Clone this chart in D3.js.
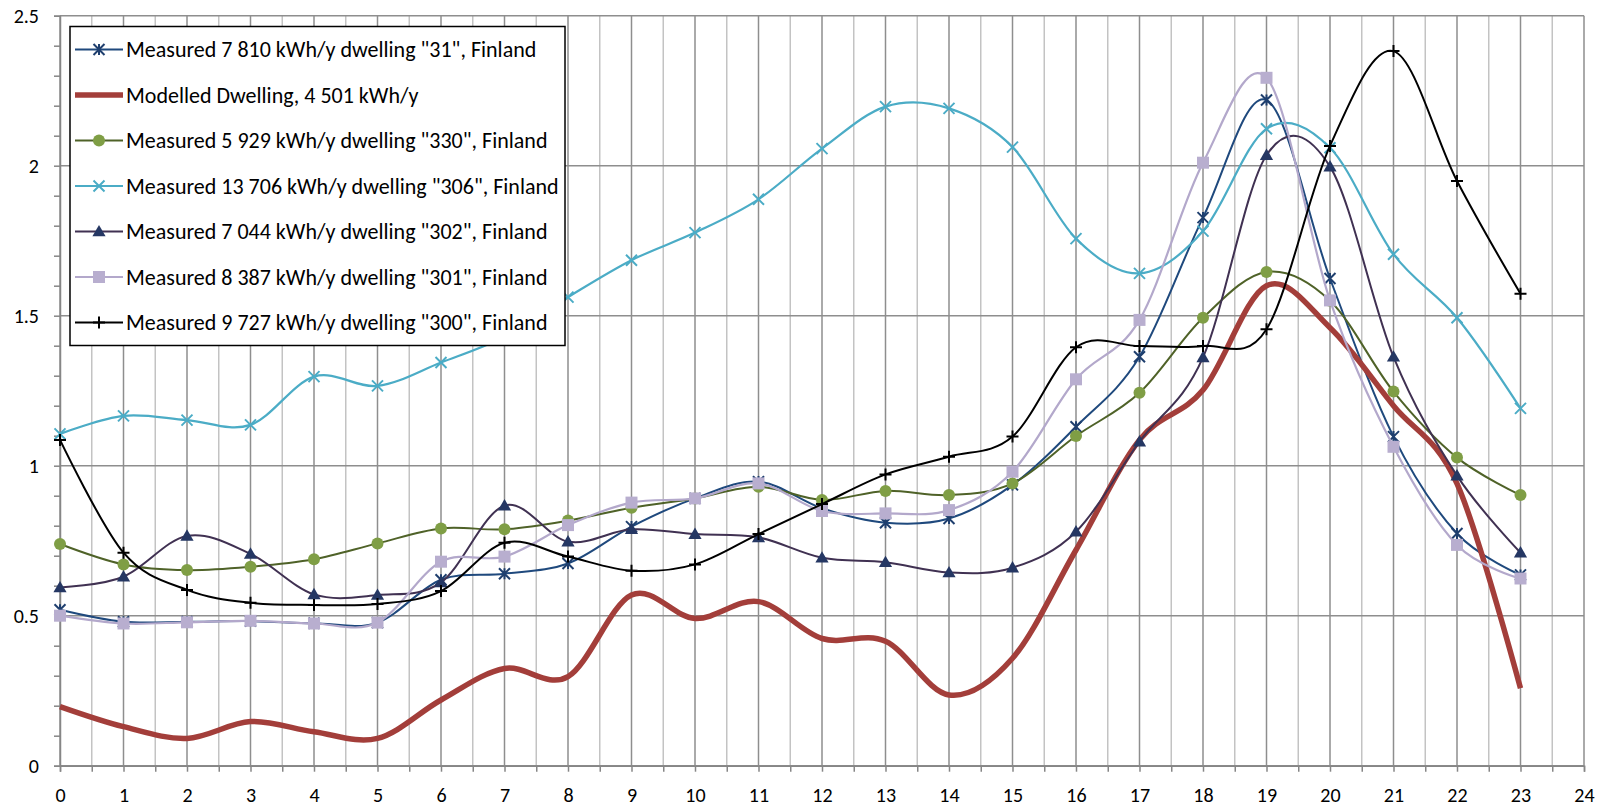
<!DOCTYPE html>
<html>
<head>
<meta charset="utf-8">
<script src="https://cdn.jsdelivr.net/npm/d3@7"></script>
<style>
  body { margin: 0; background: #fff; }
  svg text { font-family: Carlito, Calibri, Lato, "Open Sans", sans-serif; }
</style>
</head>
<body>
<div id="chart"></div>
<script>
// hours of the day
const hours = [0, 1, 2, 3, 4, 5, 6, 7, 8, 9, 10, 11, 12, 13, 14, 15, 16, 17, 18, 19, 20, 21, 22, 23];

// series values (kW)
const d31 = [0.52, 0.48, 0.48, 0.482, 0.475, 0.477, 0.62, 0.64, 0.674, 0.797, 0.891, 0.947, 0.858, 0.81, 0.824, 0.936, 1.13, 1.363, 1.827, 2.219, 1.624, 1.097, 0.774, 0.636];
const modelled = [0.197, 0.13, 0.091, 0.147, 0.113, 0.091, 0.219, 0.324, 0.297, 0.569, 0.491, 0.547, 0.424, 0.415, 0.236, 0.358, 0.719, 1.086, 1.252, 1.6, 1.46, 1.2, 0.94, 0.258];
const d330 = [0.739, 0.671, 0.652, 0.663, 0.688, 0.741, 0.791, 0.788, 0.817, 0.86, 0.891, 0.93, 0.886, 0.916, 0.902, 0.941, 1.099, 1.243, 1.493, 1.646, 1.55, 1.247, 1.027, 0.902];
const d306 = [1.106, 1.166, 1.152, 1.136, 1.297, 1.266, 1.344, 1.43, 1.562, 1.685, 1.777, 1.888, 2.057, 2.197, 2.191, 2.062, 1.757, 1.641, 1.782, 2.123, 2.06, 1.705, 1.493, 1.191];
const d302 = [0.594, 0.63, 0.766, 0.706, 0.571, 0.569, 0.611, 0.867, 0.747, 0.788, 0.772, 0.761, 0.693, 0.678, 0.644, 0.66, 0.78, 1.08, 1.361, 2.035, 1.997, 1.363, 0.967, 0.71];
const d301 = [0.5, 0.474, 0.478, 0.483, 0.474, 0.477, 0.68, 0.697, 0.802, 0.877, 0.891, 0.941, 0.849, 0.841, 0.852, 0.98, 1.288, 1.486, 2.01, 2.293, 1.551, 1.063, 0.736, 0.624];
const d300 = [1.086, 0.71, 0.586, 0.543, 0.536, 0.539, 0.582, 0.743, 0.697, 0.65, 0.671, 0.772, 0.872, 0.971, 1.03, 1.097, 1.395, 1.399, 1.399, 1.455, 2.066, 2.382, 1.949, 1.573];

const seriesNames = [
  'Measured 7 810 kWh/y dwelling "31", Finland',
  'Modelled Dwelling, 4 501 kWh/y',
  'Measured 5 929 kWh/y dwelling "330", Finland',
  'Measured 13 706 kWh/y dwelling "306", Finland',
  'Measured 7 044 kWh/y dwelling "302", Finland',
  'Measured 8 387 kWh/y dwelling "301", Finland',
  'Measured 9 727 kWh/y dwelling "300", Finland'
];

// tick labels
const xTicks = d3.range(0, 25);
const yTicks = [0, 0.5, 1, 1.5, 2, 2.5];

const W = 1606, H = 806;
const margin = {top: 15.7, right: 22, bottom: 40.3, left: 60};
const width = W - margin.left - margin.right;
const height = H - margin.top - margin.bottom;

const svg = d3.select("#chart").append("svg")
    .attr("width", W)
    .attr("height", H);

const g = svg.append("g")
    .attr("transform", `translate(${margin.left},${margin.top})`);

const x = d3.scaleLinear().domain([0, 24]).range([0, width]);
const y = d3.scaleLinear().domain([0, 2.5]).range([height, 0]);

// vertical grid: light at half hours, darker at hours
g.append("g")
    .selectAll("line")
    .data(d3.range(0.5, 24, 1))
    .join("line")
    .attr("x1", d => x(d)).attr("x2", d => x(d))
    .attr("y1", 0).attr("y2", height)
    .attr("stroke", "#c3c3c3")
    .attr("stroke-width", 1.5);

g.append("g")
    .selectAll("line")
    .data(xTicks)
    .join("line")
    .attr("x1", d => x(d)).attr("x2", d => x(d))
    .attr("y1", 0).attr("y2", height)
    .attr("stroke", "#8e8e8e")
    .attr("stroke-width", 1.5);

// horizontal grid
g.append("g")
    .selectAll("line")
    .data(yTicks)
    .join("line")
    .attr("x1", 0).attr("x2", width)
    .attr("y1", d => y(d)).attr("y2", d => y(d))
    .attr("stroke", "#8e8e8e")
    .attr("stroke-width", 1.5);

// axes
const xAxis = g.append("g")
    .attr("transform", `translate(0,${height})`)
    .call(d3.axisBottom(x).tickValues(d3.range(0, 24.5, 0.5)).tickSize(6).tickFormat(""));
xAxis.select(".domain").attr("stroke", "#868686").attr("stroke-width", 1.5);
xAxis.selectAll(".tick line").attr("stroke", "#868686").attr("stroke-width", 1.5);

g.append("g")
    .attr("transform", `translate(0,${height})`)
    .call(d3.axisBottom(x).tickValues(xTicks).tickSize(0).tickPadding(22))
    .call(a => a.select(".domain").remove())
    .selectAll("text")
    .attr("fill", "#000")
    .style("font-size", "20px");

const yAxis = g.append("g")
    .call(d3.axisLeft(y).tickValues(d3.range(0, 26).map(i => i / 10)).tickSize(6).tickFormat(""));
yAxis.select(".domain").attr("stroke", "#868686").attr("stroke-width", 1.5);
yAxis.selectAll(".tick line").attr("stroke", "#868686").attr("stroke-width", 1.5);

g.append("g")
    .call(d3.axisLeft(y).tickValues(yTicks).tickSize(0).tickPadding(21).tickFormat(d => String(d)))
    .call(a => a.select(".domain").remove())
    .selectAll("text")
    .attr("fill", "#000")
    .style("font-size", "20px");

// marker shapes
function markerPath(type, s) {
  const h = s / 2;
  if (type === "star") return `M${-h},${-h}L${h},${h}M${-h},${h}L${h},${-h}M0,${-h}L0,${h}`;
  if (type === "x") return `M${-h},${-h}L${h},${h}M${-h},${h}L${h},${-h}`;
  if (type === "plus") return `M${-h},0L${h},0M0,${-h}L0,${h}`;
  if (type === "triangle") return `M0,${-h * 1.1}L${h * 1.1},${h * 0.8}L${-h * 1.1},${h * 0.8}Z`;
  if (type === "square") return `M${-h},${-h}H${h}V${h}H${-h}Z`;
  return null;
}

const series = [
  {name: seriesNames[0], values: d31, line: "#1F497D", width: 2, marker: "star", mColor: "#1F3F6E", size: 11},
  {name: seriesNames[1], values: modelled, line: "#A33E3A", width: 5.5, marker: null},
  {name: seriesNames[2], values: d330, line: "#4F6228", width: 2, marker: "circle", mColor: "#7F9E45", size: 12},
  {name: seriesNames[3], values: d306, line: "#4BACC6", width: 2.2, marker: "x", mColor: "#4BACC6", size: 11},
  {name: seriesNames[4], values: d302, line: "#403152", width: 2, marker: "triangle", mColor: "#253763", size: 12},
  {name: seriesNames[5], values: d301, line: "#B3A8CB", width: 2.2, marker: "square", mColor: "#B8AECF", size: 12},
  {name: seriesNames[6], values: d300, line: "#000000", width: 2, marker: "plus", mColor: "#000000", size: 12}
];

function drawMarker(sel, s) {
  if (!s.marker) return;
  if (s.marker === "circle") {
    sel.append("circle").attr("r", s.size / 2).attr("fill", s.mColor);
  } else if (s.marker === "triangle" || s.marker === "square") {
    sel.append("path").attr("d", markerPath(s.marker, s.size)).attr("fill", s.mColor);
  } else {
    sel.append("path").attr("d", markerPath(s.marker, s.size))
        .attr("fill", "none").attr("stroke", s.mColor).attr("stroke-width", 2);
  }
}

const line = d3.line()
    .x((d, i) => x(hours[i]))
    .y(d => y(d))
    .curve(d3.curveCardinal.tension(0));

series.forEach(s => {
  const sg = g.append("g");
  sg.append("path")
      .datum(s.values)
      .attr("fill", "none")
      .attr("stroke", s.line)
      .attr("stroke-width", s.width)
      .attr("stroke-linejoin", "round")
      .attr("d", line);
  if (s.marker) {
    sg.selectAll("g.m")
        .data(s.values)
        .join("g")
        .attr("class", "m")
        .attr("transform", (d, i) => `translate(${x(hours[i])},${y(d)})`)
        .each(function() { drawMarker(d3.select(this), s); });
  }
});

// legend
const legend = svg.append("g").attr("transform", "translate(70,26.5)");
legend.append("rect")
    .attr("width", 495).attr("height", 319)
    .attr("fill", "#fff")
    .attr("stroke", "#000")
    .attr("stroke-width", 1.5);

series.forEach((s, i) => {
  const row = legend.append("g").attr("transform", `translate(0,${23 + i * 45.5})`);
  row.append("line")
      .attr("x1", 5).attr("x2", 53)
      .attr("stroke", s.line)
      .attr("stroke-width", s.width);
  const mg = row.append("g").attr("transform", "translate(29,0)");
  drawMarker(mg, s);
  row.append("text")
      .attr("x", 56)
      .attr("dy", "0.35em")
      .style("font-size", "22px")
      .attr("fill", "#000")
      .text(s.name);
});
</script>
</body>
</html>
